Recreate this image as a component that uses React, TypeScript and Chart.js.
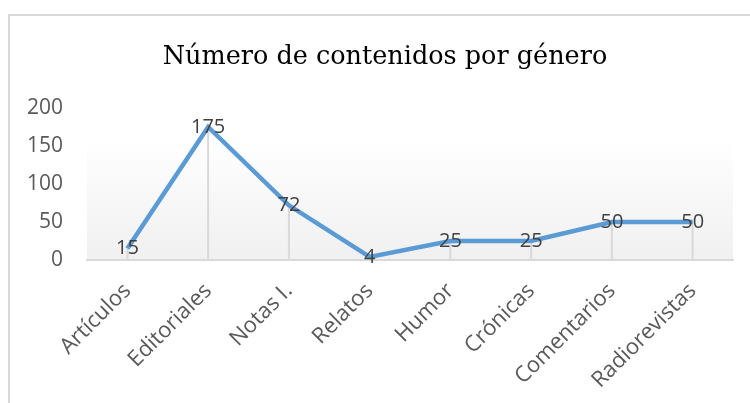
import React, { useEffect, useRef } from "react";
import { Chart, registerables } from "chart.js";

Chart.register(...registerables);

const categories = ["Artículos", "Editoriales", "Notas I.", "Relatos", "Humor", "Crónicas", "Comentarios", "Radiorevistas"];
const values = [15, 175, 72, 4, 25, 25, 50, 50];
const yTicks = [0, 50, 100, 150, 200];
const titleText = "Número de contenidos por género";

const framePlugin = {
  id: "frame",
  beforeDraw(chart: any) {
    const { ctx, chartArea } = chart;
    ctx.save();
    ctx.fillStyle = "#ffffff";
    ctx.fillRect(0, 0, chart.width, chart.height);
    ctx.strokeStyle = "#d9d9d9";
    ctx.lineWidth = 2;
    ctx.strokeRect(9, 15, chart.width + 20, chart.height + 20);
    const gTop = chartArea.top + 30;
    const g = ctx.createLinearGradient(0, gTop, 0, chartArea.bottom);
    g.addColorStop(0, "#ffffff");
    g.addColorStop(1, "#f0f0f0");
    ctx.fillStyle = g;
    ctx.fillRect(chartArea.left, gTop, chartArea.right - chartArea.left, chartArea.bottom - gTop);
    ctx.fillStyle = "#000000";
    ctx.font = "25.5px 'DejaVu Serif'";
    ctx.textAlign = "center";
    ctx.textBaseline = "middle";
    ctx.fillText(titleText, 385, 57);
    ctx.restore();
  },
  beforeDatasetsDraw(chart: any) {
    const { ctx } = chart;
    const meta = chart.getDatasetMeta(0);
    const yScale = chart.scales.y;
    const base = yScale.getPixelForValue(0);
    ctx.save();
    ctx.strokeStyle = "#d9d9d9";
    ctx.lineWidth = 2;
    meta.data.forEach((pt: any) => {
      ctx.beginPath();
      ctx.moveTo(pt.x, pt.y);
      ctx.lineTo(pt.x, base);
      ctx.stroke();
    });
    ctx.restore();
  },
  afterDatasetsDraw(chart: any) {
    const { ctx } = chart;
    const meta = chart.getDatasetMeta(0);
    ctx.save();
    ctx.fillStyle = "#404040";
    ctx.font = "20px 'Open Sans'";
    ctx.textAlign = "center";
    ctx.textBaseline = "middle";
    meta.data.forEach((pt: any, i: number) => {
      ctx.fillText(String(values[i]), pt.x, pt.y);
    });
    ctx.restore();
  },
};

export default function App() {
  const ref = useRef<HTMLCanvasElement>(null);
  useEffect(() => {
    document.body.style.margin = "0";
    const chart = new Chart(ref.current!, {
      type: "line",
      data: {
        labels: categories,
        datasets: [
          {
            data: values,
            borderColor: "#5b9bd5",
            borderWidth: 4.5,
            pointRadius: 0,
            tension: 0,
            fill: false,
          },
        ],
      },
      options: {
        animation: false,
        responsive: false,
        layout: { padding: { top: 108, right: 17, left: 0, bottom: 0 } },
        plugins: { legend: { display: false }, title: { display: false }, tooltip: { enabled: false } },
        scales: {
          x: {
            offset: true,
            grid: { display: false, drawTicks: false },
            border: { display: true, color: "#d9d9d9", width: 2 },
            ticks: {
              maxRotation: 45,
              minRotation: 45,
              padding: 18,
              color: "#595959",
              font: { family: "'Open Sans'", size: 22 },
            },
            afterFit(scale: any) {
              scale.height = 143;
            },
          },
          y: {
            min: 0,
            max: 200,
            afterBuildTicks(scale: any) {
              scale.ticks = yTicks.map((v) => ({ value: v }));
            },
            grid: { display: false, drawTicks: false },
            border: { display: false },
            ticks: {
              padding: 24,
              color: "#595959",
              font: { family: "'Open Sans'", size: 21 },
            },
            afterFit(scale: any) {
              scale.width = 87;
            },
          },
        },
      },
      plugins: [framePlugin],
    });
    return () => chart.destroy();
  }, []);
  return <canvas ref={ref} width={750} height={403} style={{ display: "block" }} />;
}
